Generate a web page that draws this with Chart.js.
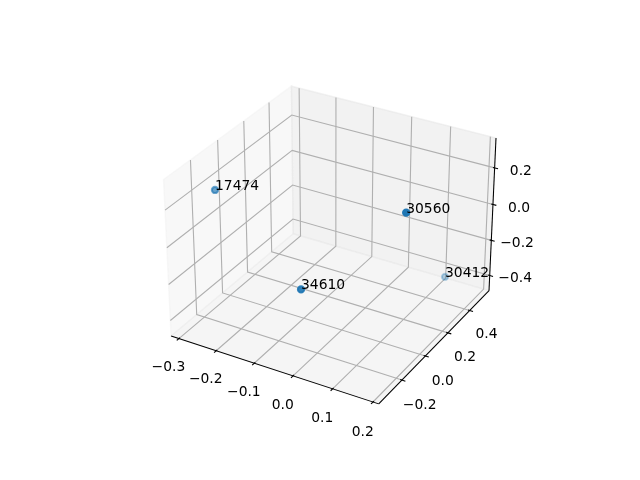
<!DOCTYPE html>
<html>
<head>
<meta charset="utf-8">
<script src="https://cdn.jsdelivr.net/npm/chart.js@4"></script>
<style>
  html, body { margin: 0; padding: 0; background: #fff; }
  canvas { display: block; }
</style>
</head>
<body>
<canvas id="chart" width="640" height="480"></canvas>
<script>
// point data (x, y, z) and the text drawn next to each point
const pointLabels = ['17474', '30560', '34610', '30412'];
const xValues = [-0.287, 0.180, 0.002, 0.115];
const yValues = [-0.124, -0.075, -0.329, 0.522];
const zValues = [0.179, 0.306, -0.056, -0.434];

const xTicks = [-0.3, -0.2, -0.1, 0.0, 0.1, 0.2];
const yTicks = [-0.2, 0.0, 0.2, 0.4];
const zTicks = [-0.4, -0.2, 0.0, 0.2];

// camera, same defaults as a matplotlib 3d axes
const ELEV = 30, AZIM = -60, DIST = 10;
const ASPECT = [4, 4, 3].map(a => a * 1.8294640721620434 / Math.sqrt(41));
const FONT = '13.89px "DejaVu Sans"';

function limits(vals) {
  const lo = Math.min(...vals), hi = Math.max(...vals);
  const m = (hi - lo) * 0.05;
  return [lo - m, hi + m];
}
const lims = [limits(xValues), limits(yValues), limits(zValues)];
const box = lims.map(([lo, hi]) => [lo - (hi - lo) / 48, hi + (hi - lo) / 48]);
const deltas = lims.map(([lo, hi]) => (hi - lo) / 12);
const centers = lims.map(([lo, hi]) => (hi + lo) / 2);

const el = ELEV * Math.PI / 180, az = AZIM * Math.PI / 180;
const w = [Math.cos(el) * Math.cos(az), Math.cos(el) * Math.sin(az), Math.sin(el)];
const eye = ASPECT.map((a, i) => a / 2 + DIST * w[i]);
let u = [-w[1], w[0], 0];
const un = Math.hypot(u[0], u[1]);
u = u.map(c => c / un);
const v = [w[1] * u[2] - w[2] * u[1], w[2] * u[0] - w[0] * u[2], w[0] * u[1] - w[1] * u[0]];

function project(p) {
  const d = p.map((val, i) => (val - lims[i][0]) / (lims[i][1] - lims[i][0]) * ASPECT[i] - eye[i]);
  const dot = a => a[0] * d[0] + a[1] * d[1] + a[2] * d[2];
  const zv = dot(w);
  return { x: dot(u) / -zv, y: dot(v) / -zv, depth: DIST / zv };
}

// which side of each axis the panes sit on
const highs = w.map(c => c < 0);
const minmax = box.map((b, i) => highs[i] ? b[1] : b[0]);
const maxmin = box.map((b, i) => highs[i] ? b[0] : b[1]);

const axisInfo = [
  { ticks: xTicks, juggled: [1, 0, 2], tickdir: 1, pane: 'rgba(242,242,242,0.5)' },
  { ticks: yTicks, juggled: [0, 1, 2], tickdir: 0, pane: 'rgba(230,230,230,0.5)' },
  { ticks: zTicks, juggled: [0, 2, 1], tickdir: 0, pane: 'rgba(236,236,236,0.5)' }
];

const projected = xValues.map((x, i) => project([x, yValues[i], zValues[i]]));
const depths = projected.map(p => p.depth);
const dMin = Math.min(...depths), dMax = Math.max(...depths);
const pointColors = depths.map(d => `rgba(31,119,180,${1 - (d - dMin) / (dMax - dMin) * 0.7})`);

function fmt(t) {
  return t.toFixed(1).replace('-', '\u2212');
}

const frame3d = {
  id: 'frame3d',
  beforeDatasetsDraw(chart) {
    const ctx = chart.ctx;
    const sx = chart.scales.x, sy = chart.scales.y;
    const toPx = p => { const q = project(p); return [sx.getPixelForValue(q.x), sy.getPixelForValue(q.y)]; };
    const polyline = (pts, close) => {
      ctx.beginPath();
      pts.map(toPx).forEach(([px, py], k) => k ? ctx.lineTo(px, py) : ctx.moveTo(px, py));
      if (close) ctx.closePath();
    };
    const area = chart.chartArea;
    const deltasPerPoint = 48 / (72 * ((area.right - area.left) / 100 + (area.bottom - area.top) / 100));
    ctx.save();

    // panes
    axisInfo.forEach((info, i) => {
      const k1 = (i + 1) % 3, k2 = (i + 2) % 3;
      const corner = (a, b) => { const p = [0, 0, 0]; p[i] = minmax[i]; p[k1] = box[k1][a]; p[k2] = box[k2][b]; return p; };
      polyline([corner(0, 0), corner(1, 0), corner(1, 1), corner(0, 1)], true);
      ctx.fillStyle = info.pane;
      ctx.strokeStyle = info.pane;
      ctx.lineWidth = 1.39;
      ctx.fill();
      ctx.stroke();
    });

    // grid lines
    ctx.strokeStyle = '#b0b0b0';
    ctx.lineWidth = 1.11;
    axisInfo.forEach((info, i) => {
      info.ticks.forEach(t => {
        const p0 = minmax.slice(); p0[i] = t;
        const a = p0.slice(); a[(i + 1) % 3] = maxmin[(i + 1) % 3];
        const c = p0.slice(); c[(i + 2) % 3] = maxmin[(i + 2) % 3];
        polyline([a, p0, c], false);
        ctx.stroke();
      });
    });

    // axis lines, ticks and tick labels
    ctx.font = FONT;
    ctx.fillStyle = '#000';
    ctx.textAlign = 'center';
    ctx.textBaseline = 'top';
    axisInfo.forEach((info, i) => {
      const j = info.juggled;
      const e1 = minmax.slice(); e1[j[0]] = maxmin[j[0]];
      const e2 = e1.slice(); e2[j[1]] = maxmin[j[1]];
      ctx.strokeStyle = '#000';
      ctx.lineWidth = 1.04;
      polyline([e1, e2], false);
      ctx.stroke();

      const td = info.tickdir;
      const tickDelta = highs[td] ? deltas[td] : -deltas[td];
      info.ticks.forEach(t => {
        const pOut = e1.slice(); pOut[i] = t; pOut[td] = e1[td] + 0.1 * tickDelta;
        const pIn = pOut.slice(); pIn[td] = e1[td] - 0.2 * tickDelta;
        ctx.lineWidth = 1.11;
        polyline([pOut, pIn], false);
        ctx.stroke();

        const lp = e1.slice(); lp[i] = t;
        for (let k = 0; k < 3; k++) {
          if (k === i) continue;
          lp[k] += Math.sign(lp[k] - centers[k]) * (3.5 + 8) * deltasPerPoint * deltas[k];
        }
        const [lx, ly] = toPx(lp);
        ctx.fillText(fmt(t), lx, ly);
      });
    });
    ctx.restore();
  },
  afterDatasetsDraw(chart) {
    const ctx = chart.ctx;
    const sx = chart.scales.x, sy = chart.scales.y;
    ctx.save();
    ctx.font = FONT;
    ctx.fillStyle = '#000';
    ctx.textAlign = 'left';
    ctx.textBaseline = 'alphabetic';
    projected.forEach((p, i) => {
      ctx.fillText(pointLabels[i], sx.getPixelForValue(p.x), sy.getPixelForValue(p.y));
    });
    ctx.restore();
  }
};

new Chart(document.getElementById('chart'), {
  type: 'scatter',
  data: {
    datasets: [{
      data: projected.map(p => ({ x: p.x, y: p.y })),
      backgroundColor: pointColors,
      borderColor: pointColors,
      borderWidth: 2.08,
      pointRadius: 3.1,
      pointHoverRadius: 3.1,
      clip: false
    }]
  },
  options: {
    responsive: false,
    animation: false,
    events: [],
    layout: { padding: { left: 143.2, right: 127.2, top: 57.6, bottom: 52.8 } },
    scales: {
      x: { type: 'linear', min: -0.095, max: 0.09, display: false },
      y: { type: 'linear', min: -0.095, max: 0.09, display: false }
    },
    plugins: { legend: { display: false }, tooltip: { enabled: false } }
  },
  plugins: [frame3d]
});
</script>
</body>
</html>
